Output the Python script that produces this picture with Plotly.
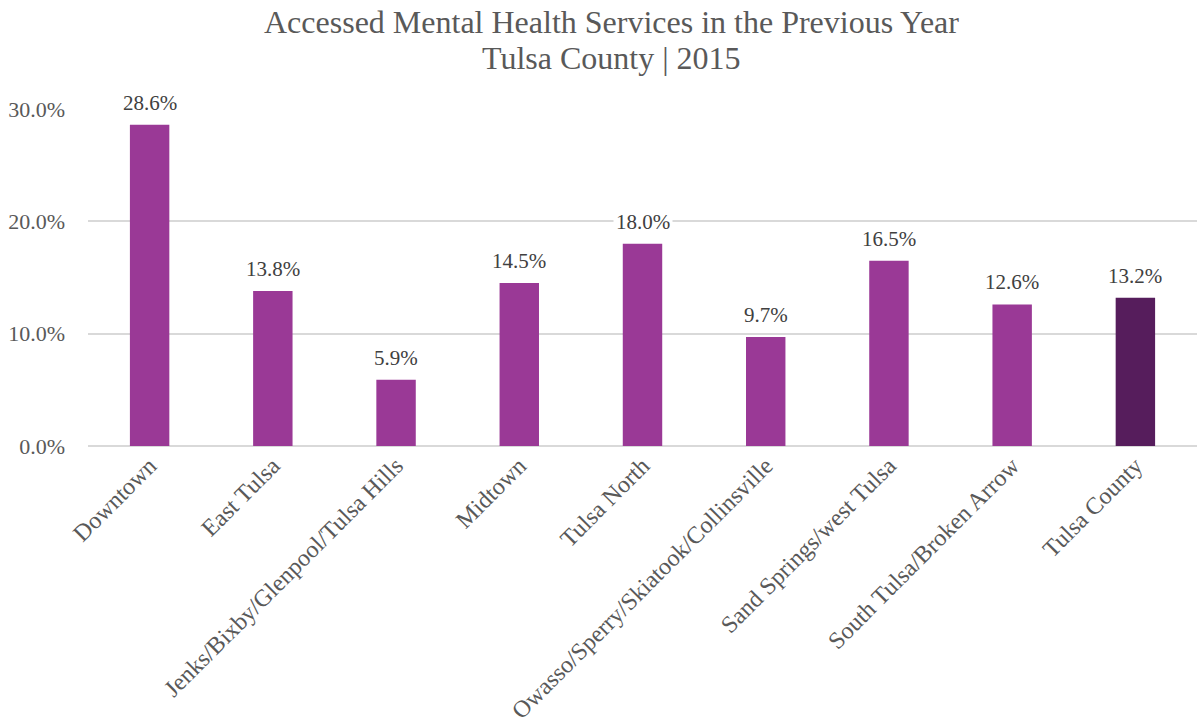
import plotly.graph_objects as go

# Share of adults who accessed mental health services, by region
regions = [
    "Downtown",
    "East Tulsa",
    "Jenks/Bixby/Glenpool/Tulsa Hills",
    "Midtown",
    "Tulsa North",
    "Owasso/Sperry/Skiatook/Collinsville",
    "Sand Springs/west Tulsa",
    "South Tulsa/Broken Arrow",
    "Tulsa County",
]
pct_values = [28.6, 13.8, 5.9, 14.5, 18.0, 9.7, 16.5, 12.6, 13.2]

title_lines = [
    "Accessed Mental Health Services in the Previous Year",
    "Tulsa County | 2015",
]

region_color = "#9A3996"
county_color = "#561D5C"
bar_colors = [county_color if r == "Tulsa County" else region_color for r in regions]

serif = "Liberation Serif, Times New Roman, serif"
text_gray = "#595959"

fig = go.Figure(
    go.Bar(
        x=regions,
        y=pct_values,
        marker=dict(color=bar_colors, line=dict(width=0)),
        width=0.32,
        hoverinfo="x+y",
    )
)

# Value labels on white boxes so the gridlines break behind them
for r, v in zip(regions, pct_values):
    fig.add_annotation(
        x=r,
        y=v,
        text=f"{v:.1f}%",
        showarrow=False,
        yanchor="bottom",
        yshift=7,
        bgcolor="white",
        borderpad=2,
        font=dict(family=serif, size=21, color="#404040"),
    )

# Title, one annotation per line for tight line spacing
for i, line in enumerate(title_lines):
    fig.add_annotation(
        text=line,
        xref="paper",
        yref="paper",
        x=0.4716,
        y=1.0,
        yshift=87 - 36 * i,
        xanchor="center",
        yanchor="middle",
        showarrow=False,
        font=dict(family=serif, size=32, color=text_gray),
    )

fig.update_layout(
    width=1199,
    height=727,
    paper_bgcolor="white",
    plot_bgcolor="white",
    margin=dict(l=88, r=2, t=109, b=281),
    showlegend=False,
    xaxis=dict(
        tickangle=-45,
        tickfont=dict(family=serif, size=24, color=text_gray),
        showgrid=False,
        showline=False,
        ticks="",
    ),
    yaxis=dict(
        range=[0, 30],
        dtick=10,
        tickformat=".1f",
        ticksuffix="%",
        tickfont=dict(family=serif, size=22, color=text_gray),
        ticklabelstandoff=22,
        showgrid=True,
        gridcolor="#D9D9D9",
        gridwidth=1.5,
        zeroline=True,
        zerolinecolor="#D9D9D9",
        zerolinewidth=1.5,
        ticks="",
        ticklen=0,
    ),
)

fig.write_html("out.html")
